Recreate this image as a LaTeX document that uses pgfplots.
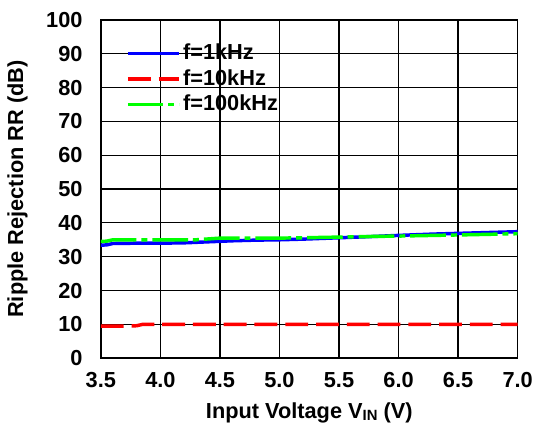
\documentclass[border=0pt]{standalone}
\usepackage{pgfplots}
\pgfplotsset{compat=1.18}
\usepackage{fontspec}
\setmainfont{Liberation Sans}
\begin{document}
\fontsize{22}{25}\selectfont
\begin{tikzpicture}[x=1bp,y=1bp]
\begin{axis}[
  name=main,
  scale only axis,
  width=420bp, height=341bp,
  xmin=3.5, xmax=7.0, ymin=0, ymax=100,
  xtick={3.5,4.0,...,7.0},
  ytick={0,10,...,100},
  xticklabel style={yshift=-7bp, /pgf/number format/.cd,fixed,fixed zerofill,precision=1},
  /pgf/number format/assume math mode=true,
  ticklabel style={font=\fontsize{22}{25}\selectfont\bfseries},
  label style={font=\fontsize{22}{25}\selectfont\bfseries},
  yticklabel style={xshift=-11bp},
  grid=major,
  major grid style={black, line width=1.2pt},
  axis line style={black, line width=1.6pt},
  tick style={draw=none},
  xlabel={Input Voltage V\raisebox{-1.5pt}{\fontsize{15}{15}\selectfont IN} (V)},
  ylabel={Ripple Rejection RR (dB)},
  xlabel style={yshift=0bp},
  ylabel style={yshift=4bp},
  legend style={draw=none, fill=none, at={(0.06,0.935)}, anchor=north west, font=\fontsize{22}{25}\selectfont\bfseries, row sep=2.5bp, inner sep=0bp},
  legend cell align=left,
  legend image code/.code={\draw[#1] (0bp,0bp) -- (52bp,0bp);},
]
\addplot[blue, line width=3.5pt] coordinates {
(3.5,33.4) (3.55,33.5) (3.6,33.9) (3.8,34.0) (4.0,34.0) (4.2,34.1) (4.4,34.4) (4.6,34.7) (4.8,34.9) (5.0,35.0) (5.2,35.2) (5.5,35.6) (5.8,36.0) (6.0,36.3) (6.3,36.7) (6.6,37.0) (7.0,37.4)};
\addlegendentry{f=1kHz}
\addplot[red, line width=3.5pt, dash pattern=on 23bp off 8bp] coordinates {
(3.5,9.5) (3.7,9.5) (3.8,9.6) (3.85,10.0) (4.0,10.0) (5.0,10.0) (6.0,10.0) (7.0,10.0)};
\addlegendentry{f=10kHz}
\addplot[green, line width=3.5pt, dash pattern=on 36bp off 5bp on 6bp off 5bp] coordinates {
(3.5,34.5) (3.55,34.6) (3.6,35.0) (3.8,35.0) (4.0,35.0) (4.3,35.0) (4.5,35.5) (4.8,35.5) (5.0,35.5) (5.2,35.6) (5.5,35.8) (5.8,36.0) (6.0,36.1) (6.3,36.3) (6.6,36.5) (7.0,36.8)};
\addlegendentry{f=100kHz}
\end{axis}
\path (main.north west) ++(0,20bp) coordinate (padtop);
\path (padtop) -- (padtop);
\end{tikzpicture}
\end{document}
